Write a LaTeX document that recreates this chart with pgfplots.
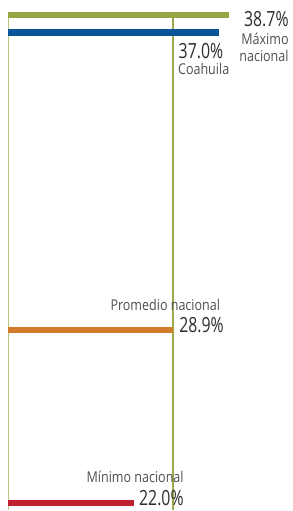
\documentclass[border=0pt]{standalone}
\usepackage{pgfplots}
\pgfplotsset{compat=1.18}
\usepackage{fontspec}
\setmainfont{Open Sans}[FakeStretch=0.84]
\newfontfamily\numfont{Open Sans}[FakeStretch=0.76]
\definecolor{cgreen}{HTML}{95A743}
\definecolor{cblue}{HTML}{0A5597}
\definecolor{corange}{HTML}{D07C2A}
\definecolor{cred}{HTML}{C0202E}
\definecolor{cline}{HTML}{9AAB4C}
\definecolor{clineL}{HTML}{B9C67F}
\definecolor{ctext}{HTML}{2E2E2E}
\definecolor{clabel}{HTML}{505050}
\tikzset{
  num/.style={text=ctext, font=\numfont\fontsize{21}{22}\selectfont},
  lab/.style={text=clabel, font=\fontsize{15}{17}\selectfont},
}
\begin{document}
\begin{tikzpicture}
\begin{axis}[
  scale only axis, width=293bp, height=511bp,
  xmin=-1.49, xmax=49.91, ymin=0, ymax=511, y dir=reverse,
  hide axis, clip=false,
  every node/.style={inner sep=0pt},
]
\path (rel axis cs:0,0) rectangle (rel axis cs:1,1);
% vertical reference lines
\addplot[clineL, line width=1.2bp, mark=none] coordinates {(0,14) (0,511)};
\addplot[cline, line width=2bp, mark=none] coordinates {(28.9,14) (28.9,511)};
% bars
\addplot[xbar, bar width=6.5bp, bar shift=0pt, fill=cgreen, draw=none] coordinates {(38.7,14.8)};
\addplot[xbar, bar width=6.5bp, bar shift=0pt, fill=cblue, draw=none] coordinates {(37.0,32.5)};
\addplot[xbar, bar width=6.5bp, bar shift=0pt, fill=corange, draw=none] coordinates {(28.9,330.8)};
\addplot[xbar, bar width=6.5bp, bar shift=0pt, fill=cred, draw=none] coordinates {(22.0,504)};
% labels
\node[anchor=east, num] at (axis cs:49.85,19) {38.7\%};
\node[anchor=north east, lab, align=right] at (axis cs:49.85,29.5) {Máximo\\nacional};
\node[anchor=west, num] at (axis cs:29.3,51) {37.0\%};
\node[anchor=west, lab] at (axis cs:29.2,69.5) {Coahuila};
\node[anchor=east, lab] at (axis cs:37.8,305) {Promedio nacional};
\node[anchor=west, num] at (axis cs:29.4,326) {28.9\%};
\node[anchor=east, lab] at (axis cs:31.4,478) {Mínimo nacional};
\node[anchor=east, num] at (axis cs:31.4,499) {22.0\%};
\end{axis}
\end{tikzpicture}
\end{document}
